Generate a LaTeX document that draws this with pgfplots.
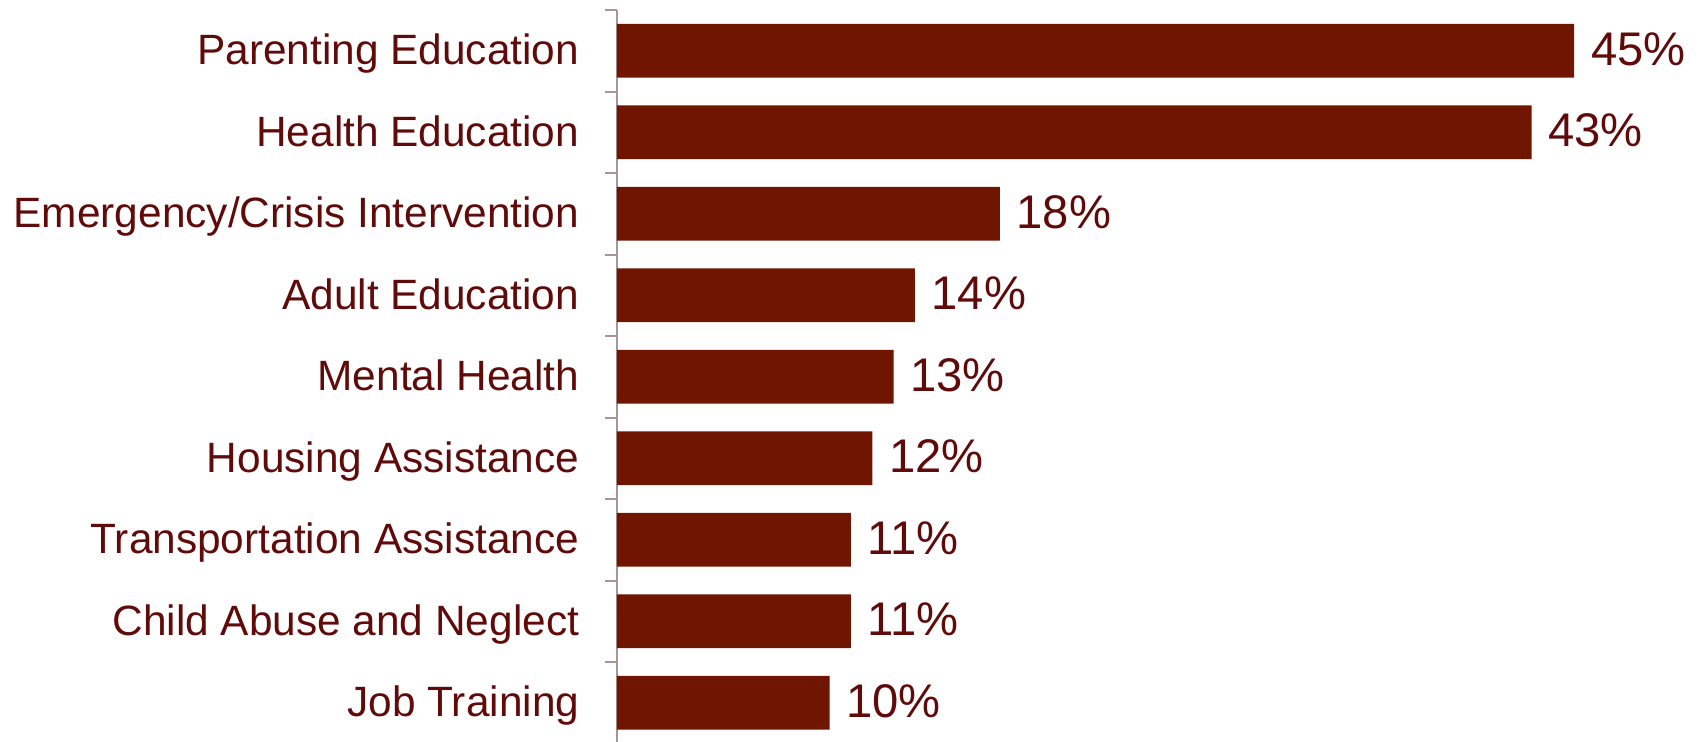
\documentclass[border=0pt]{standalone}
\usepackage{fontspec}
\setmainfont{Liberation Sans}
\usepackage{pgfplots}
\pgfplotsset{compat=1.18}
\definecolor{barc}{RGB}{112,22,0}
\definecolor{txt}{RGB}{96,10,10}
\definecolor{axc}{RGB}{166,150,150}
\begin{document}
\begin{tikzpicture}
\begin{axis}[name=ax, xbar, scale only axis, width=271.75pt, height=183.4pt,
  xmin=0, xmax=51.1, ymin=-0.5, ymax=8.5,
  /pgf/number format/assume math mode=true,
  hide x axis,
  axis y line*=left,
  ytick={0,...,8},
  yticklabels={Job Training, Child Abuse and Neglect, Transportation Assistance, Housing Assistance, Mental Health, Adult Education, Emergency/Crisis Intervention, Health Education, Parenting Education},
  major tick length=0pt,
  minor ytick={-0.5,0.5,...,8.5},
  minor tick length=3pt, tick align=outside,
  y axis line style={draw=axc, line width=0.5pt},
  minor y tick style={draw=axc, line width=0.5pt},
  yticklabel style={font=\fontsize{10.6}{12}\selectfont, text=txt, anchor=base east, inner sep=0pt, xshift=-9.25pt, yshift=-3.5pt},
  bar width=0.66,
  point meta=x,
  nodes near coords={\pgfmathprintnumber{\pgfplotspointmeta}\%},
  nodes near coords style={font=\fontsize{11.8}{13}\selectfont, text=txt, anchor=base west, inner sep=0pt, xshift=4pt, yshift=-3.6pt},
]
\addplot[fill=barc, draw=none] coordinates {(10,0) (11,1) (11,2) (12,3) (13,4) (14,5) (18,6) (43,7) (45,8)};
\end{axis}
\pgfresetboundingbox
\path ([xshift=-154.25pt, yshift=0.4pt]ax.south west) rectangle ([yshift=2.5pt]ax.north east);
\end{tikzpicture}
\end{document}
